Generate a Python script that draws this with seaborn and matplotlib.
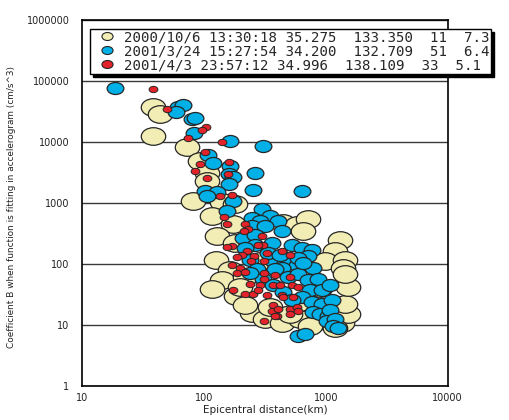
import matplotlib
matplotlib.use('Agg')
import matplotlib.pyplot as plt
import numpy as np
import pandas as pd
import seaborn as sns
from matplotlib.lines import Line2D
from matplotlib.markers import MarkerStyle
from matplotlib.path import Path
from matplotlib.ticker import FixedLocator, FuncFormatter, NullLocator

# legend entries: date time lat lon depth magnitude
labels = [
    '2000/10/6 13:30:18 35.275  133.350  11  7.3',
    '2001/3/24 15:27:54 34.200  132.709  51  6.4',
    '2001/4/3 23:57:12 34.996  138.109  33  5.1',
]

# 2000/10/6 event (big yellow)
dist_a = [38.3, 43.7, 38.3, 72.8, 93, 106, 106, 81.5, 141, 180, 117, 174, 447, 582,
          716, 128, 180, 652, 1313, 1195, 989, 1443, 1390, 126, 164, 141, 117, 184,
          249, 218, 318, 439, 616, 866, 1130, 1363, 1527, 1443, 1527, 1443, 900, 616,
          289, 218, 350, 510, 745, 1195, 198]
coef_a = [37600, 29000, 12400, 8260, 4920, 3160, 2260, 1080, 1040, 968, 621, 445, 461, 429,
          556, 286, 220, 344, 247, 164, 113, 118, 84.4, 118, 78.3, 54.2, 38.8, 30.0,
          16.0, 21.5, 12.3, 10.6, 12.3, 11.5, 10.6, 10.6, 14.9, 22.3, 41.8, 67.6, 40.3, 24.0,
          113, 60.5, 20.0, 15.4, 9.5, 8.85, 41.8]

# 2001/3/24 event (blue)
dist_b = [18.7, 61.4, 67.5, 59.2, 80.0, 84.7, 83.1, 164, 306, 108, 119, 164, 263, 161,
          174, 161, 253, 640, 102, 128, 174, 106, 155, 300, 350, 249, 289, 407, 249, 318,
          439, 210, 263, 363, 263, 530, 640, 773, 218, 239, 370, 464, 582, 716, 593, 788,
          439, 274, 306, 384, 491, 593, 716, 866, 370, 447, 745, 933, 1087, 640, 530, 773,
          933, 1130, 788, 900, 1047, 1087, 1026, 1195, 1151, 1264, 593, 677, 239, 652,
          336, 422]
coef_b = [75800, 37600, 40900, 31200, 24100, 25000, 13800, 10300, 8570, 6140, 4570, 4090,
          3160, 3040, 2620, 2030, 1620, 1560, 1560, 1510, 1080, 1300, 746, 804, 621, 577,
          516, 516, 413, 413, 344, 265, 297, 220, 205, 205, 183, 170, 183, 118, 113, 105,
          97.8, 136, 127, 87.5, 87.5, 81.3, 56.2, 81.3, 60.5, 67.6, 54.2, 56.2, 45.0, 34.8,
          37.4, 37.4, 45.0, 28.9, 25.9, 24.0, 22.3, 25.9, 16.6, 15.4, 13.8, 17.9, 11.5,
          12.3, 9.5, 8.85, 6.6, 7.1, 70.2, 105, 152, 142]

# 2001/4/3 event (small red)
dist_c = [38.3, 49.9, 104, 96.6, 74.2, 141, 102, 93.0, 161, 84.7, 158, 106, 136, 171,
          146, 155, 218, 231, 214, 300, 306, 279, 171, 155, 226, 258, 206, 187, 171, 198,
          244, 312, 187, 218, 312, 312, 239, 289, 370, 174, 218, 253, 279, 330, 439, 370,
          363, 399, 312, 384, 510, 422, 530, 593, 447, 540, 407, 510, 582, 593, 384, 510,
          439, 510, 330]
coef_c = [73000, 34900, 17900, 15500, 11500, 9930, 6860, 4400, 4740, 3400, 3040, 2530,
          1300, 1350, 598, 445, 445, 370, 344, 286, 205, 205, 197, 190, 164, 136, 142, 131,
          97.8, 87.5, 113, 113, 70.2, 72.8, 70.2, 56.2, 46.7, 45.0, 45.0, 37.4, 32.3, 32.3,
          37.4, 31.1, 31.1, 21.5, 17.2, 14.3, 11.5, 65.2, 60.5, 45.0, 45.0, 41.8, 28.9,
          28.9, 18.5, 18.5, 20.0, 17.2, 13.8, 14.9, 164, 142, 152]

colors = ['#F2EDB4', '#00B0E6', '#E3232A']
edge = '#262626'

# circles in the original are slightly squashed
circ = Path.unit_circle()
ellipse = MarkerStyle(Path(circ.vertices * [1.0, 0.72], circ.codes))

sns.set_style('white')
plt.rcParams['font.family'] = ['DejaVu Sans']

fig = plt.figure(figsize=(5.09, 4.20), dpi=100)
ax = fig.add_axes([0.1611, 0.0810, 0.7185, 0.8714])

df_a = pd.DataFrame({'dist': dist_a, 'coef': coef_a})
df_b = pd.DataFrame({'dist': dist_b, 'coef': coef_b})
df_c = pd.DataFrame({'dist': dist_c, 'coef': coef_c})

sns.scatterplot(data=df_a, x='dist', y='coef', ax=ax, marker=ellipse, s=310,
                color=colors[0], edgecolor=edge, linewidth=0.9, legend=False, zorder=3)
sns.scatterplot(data=df_b, x='dist', y='coef', ax=ax, marker=ellipse, s=145,
                color=colors[1], edgecolor=edge, linewidth=0.9, legend=False, zorder=4)
sns.scatterplot(data=df_c, x='dist', y='coef', ax=ax, marker=ellipse, s=40,
                color=colors[2], edgecolor=edge, linewidth=0.7, legend=False, zorder=5)

ax.set_xscale('log')
ax.set_yscale('log')
ax.set_xlim(10, 10000)
ax.set_ylim(1, 1e6)

ax.xaxis.set_major_locator(FixedLocator([10, 100, 1000, 10000]))
ax.yaxis.set_major_locator(FixedLocator([1, 10, 100, 1000, 1e4, 1e5, 1e6]))
ax.xaxis.set_minor_locator(NullLocator())
ax.yaxis.set_minor_locator(NullLocator())
fmt = FuncFormatter(lambda v, p: '%d' % round(v))
ax.xaxis.set_major_formatter(fmt)
ax.yaxis.set_major_formatter(fmt)
ax.tick_params(axis='both', direction='in', length=3, width=1, colors='black',
               labelsize=7, labelcolor='#222222')
ax.tick_params(axis='y', pad=9)
ax.tick_params(axis='x', pad=5)

ax.yaxis.grid(True, color='#3a3a3a', linewidth=1.0)
ax.xaxis.grid(False)
ax.set_axisbelow(True)
for sp in ax.spines.values():
    sp.set_color('black')
    sp.set_linewidth(1.2)

ax.set_xlabel('Epicentral distance(km)', fontsize=7.5, color='#222222')
ax.set_ylabel('Coefficient B when function is fitting in accelerogram (cm/s^3)',
              fontsize=6.4, color='#222222')
ax.xaxis.set_label_coords(0.5, -0.052)
ax.yaxis.set_label_coords(-0.18, 0.49)

handles = [Line2D([], [], linestyle='none', marker=ellipse, markersize=8,
                  markerfacecolor=c, markeredgecolor=edge, markeredgewidth=0.8)
           for c in colors]
leg = ax.legend(handles, labels, loc='upper left', bbox_to_anchor=(90 / 509, 1 - 29 / 420),
                bbox_transform=fig.transFigure, borderaxespad=0, frameon=True,
                fancybox=False, edgecolor='black', framealpha=1,
                shadow={'facecolor': 'black', 'edgecolor': 'black', 'alpha': 1, 'ox': 2, 'oy': -2},
                prop={'family': 'DejaVu Sans Mono', 'size': 10.2}, borderpad=0.1,
                labelspacing=0.0, handlelength=2.2, handletextpad=0.1)
leg.get_frame().set_linewidth(1.0)
leg.set_zorder(10)

fig.savefig('out.png', dpi=100)
